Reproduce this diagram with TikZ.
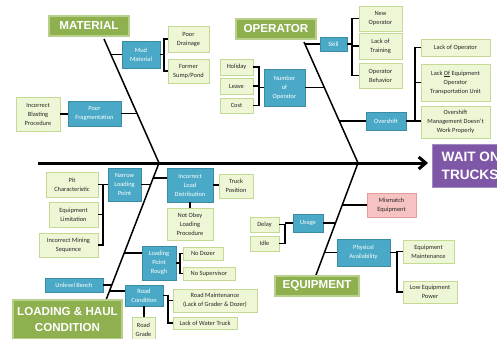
\documentclass[tikz,border=0pt]{standalone}
\usepackage{fontspec}
\setmainfont{Carlito}
\newfontfamily\catfont{Liberation Sans}
\usetikzlibrary{arrows.meta,shadows}
\definecolor{catg}{HTML}{8EB04F}
\definecolor{catb}{HTML}{B9CF8C}
\definecolor{lgfill}{HTML}{EEF7D5}
\definecolor{lgdraw}{HTML}{C4DA94}
\definecolor{bfill}{HTML}{4AA9C6}
\definecolor{bdraw}{HTML}{3A8BA4}
\definecolor{pkfill}{HTML}{F6C2C2}
\definecolor{pkdraw}{HTML}{E29C9C}
\definecolor{purp}{HTML}{7E58A6}
\definecolor{purpb}{HTML}{A38CC4}
\newcommand\bx[7]{\node[#2, minimum width={(#5-#3)*1pt}, minimum height={(#6-#4)*1pt}] (#1) at ({(#3+#5)/2},{(#4+#6)/2}) {#7};}
\begin{document}
\begin{tikzpicture}[x=1pt,y=-1pt,
  base/.style={inner sep=0pt, outer sep=0pt, align=center, font=\fontsize{6.4}{9}\selectfont},
  lg/.style={base, fill=lgfill, draw=lgdraw, line width=0.9pt, text=black!85,
    drop shadow={shadow xshift=0.8pt, shadow yshift=-0.8pt, opacity=0.25}},
  blu/.style={base, fill=bfill, draw=bdraw, line width=0.9pt, text=white},
  pinkb/.style={base, fill=pkfill, draw=pkdraw, line width=0.9pt, text=black!85,
    drop shadow={shadow xshift=0.8pt, shadow yshift=-0.8pt, opacity=0.25}},
  cat/.style={inner sep=0pt, outer sep=0pt, align=center, fill=catg, draw=catb, line width=1.2pt,
    text=white, font=\catfont\bfseries\fontsize{11.6}{15.5}\selectfont},
  ln/.style={line width=1.4pt, black},
  bone/.style={line width=1.5pt, black}]
\path[use as bounding box, clip] (0,0) rectangle (497,338);
\fill[white] (0,0) rectangle (497,338);

% ---------- spine ----------
\coordinate (spl) at (38,163);
\coordinate (spr) at (428,163);
\coordinate (hubL) at (159,163);
\coordinate (hubR) at (358,163);
\draw[line width=3pt, -{Straight Barb[length=7pt,width=12pt]}] (spl) -- (spr);
\node[fill=purp, draw=purpb, line width=1pt, minimum width=90pt, minimum height=43pt, inner sep=0pt] (wot) at (477,165.5) {};
\node[anchor=west, inner sep=0pt, align=left, text=white, font=\catfont\bfseries\fontsize{13.6}{18}\selectfont] (wott) at (441.5,166) {WAIT ON\\TRUCKS};

% ---------- MATERIAL ----------
\bx{mat}{cat}{49}{16}{129}{36}{MATERIAL}
\coordinate (mtop) at (104,39);
\draw[bone] (mtop) -- (hubL);
\bx{mud}{blu}{122}{41}{160}{68}{Mud\\Material}
\bx{pd}{lg}{168}{26}{209}{52}{Poor\\Drainage}
\bx{fsp}{lg}{168}{59}{209}{83}{Former\\Sump/Pond}
\bx{pf}{blu}{68}{101}{121}{126}{Poor\\Fragmentation}
\bx{ibp}{lg}{16}{97}{60}{131}{Incorrect\\Blasting\\Procedure}
\coordinate (m1) at (110.9,54.5);
\coordinate (m2) at (137,113.5);
\draw[ln] (m1) -- (m1 -| mud.west);
\draw[ln] (pf.east) -- (m2);
\draw[ln] (ibp.east) -- (ibp.east -| pf.west);
\coordinate (mb) at (164,0);
\draw[ln] (mud.east) -- (mud.east -| mb);
\draw[ln] (pd.west) -- (pd.west -| mb) -- (fsp.west -| mb) -- (fsp.west);

% ---------- OPERATOR ----------
\bx{op}{cat}{236}{19}{316}{39}{OPERATOR}
\coordinate (otop) at (304,42);
\draw[bone] (otop) -- (hubR);
\bx{skill}{blu}{320}{37}{347}{51}{Skill}
\bx{no}{lg}{359}{6}{402}{31}{New\\Operator}
\bx{lot}{lg}{359}{33}{402}{59}{Lack of\\Training}
\bx{ob}{lg}{359}{63}{402}{88}{Operator\\Behavior}
\coordinate (o1) at (304.9,44);
\draw[ln] (o1) -- (o1 -| skill.west);
\coordinate (sb) at (352,0);
\draw[ln] (skill.east) -- (skill.east -| sb);
\draw[ln] (no.west) -- (no.west -| sb) -- (ob.west -| sb) -- (ob.west);
\draw[ln] (lot.west) -- (lot.west -| sb);

\bx{noo}{blu}{264}{69}{305}{106}{Number\\of\\Operator}
\bx{hol}{lg}{220}{59}{253}{75}{Holiday}
\bx{lea}{lg}{220}{78}{253}{94}{Leave}
\bx{cost}{lg}{220}{98}{253}{113}{Cost}
\coordinate (o2) at (324.3,87.5);
\draw[ln] (noo.east) -- (o2);
\coordinate (nb) at (259,0);
\draw[ln] (noo.west) -- (noo.west -| nb);
\draw[ln] (hol.east) -- (hol.east -| nb) -- (cost.east -| nb) -- (cost.east);
\draw[ln] (lea.east) -- (lea.east -| nb);

\bx{ovs}{blu}{366}{112}{406}{130}{Overshift}
\bx{loo}{lg}{421}{39}{490}{56}{Lack of Operator}
\bx{loe}{lg}{421}{64}{490}{101}{Lack \underline{Of} Equipment\\Operator\\Transportation Unit}
\bx{omd}{lg}{421}{106}{490}{138}{Overshift\\Management Doesn't\\Work Properly}
\coordinate (o3) at (339.3,121);
\draw[ln] (o3) -- (ovs.west);
\coordinate (ob2) at (415,0);
\draw[ln] (ovs.east) -- (ovs.east -| ob2);
\draw[ln] (loo.west) -- (loo.west -| ob2) -- (ovs.east -| ob2);
\draw[ln] (loe.west) -- (loe.west -| ob2);
\draw[ln] (ovs.east -| ob2) -- (ovs.east -| omd.west);

% ---------- LOADING & HAUL ----------
\coordinate (lbot) at (106,300);
\draw[bone] (hubL) -- (lbot);
\bx{lhc}{cat}{13}{300}{122}{339}{LOADING \& HAUL\\CONDITION}
\bx{nlp}{blu}{108}{168}{141}{201}{Narrow\\Loading\\Point}
\bx{pc}{lg}{46}{172}{98}{197}{Pit\\Characteristic}
\bx{el}{lg}{49}{202}{98}{227}{Equipment\\Limitation}
\bx{ims}{lg}{39}{233}{98}{257}{Incorrect Mining\\Sequence}
\coordinate (l1) at (150.7,184.5);
\draw[ln] (nlp.east) -- (l1);
\coordinate (lb) at (103,0);
\draw[ln] (nlp.west) -- (nlp.west -| lb);
\draw[ln] (pc.east) -- (pc.east -| lb) -- (ims.east -| lb) -- (ims.east);
\draw[ln] (el.east) -- (el.east -| lb);

\bx{ild}{blu}{167}{168}{213}{202}{Incorrect\\Load\\Distribution}
\bx{tp}{lg}{219}{174}{253}{198}{Truck\\Position}
\bx{nol}{lg}{167}{208}{213}{240}{Not Obey\\Loading\\Procedure}
\coordinate (l2) at (153.2,178);
\draw[ln] (l2) -- (l2 -| ild.west);
\draw[ln] (ild.east) -- (ild.east -| tp.west);
\draw[ln] (ild.south) -- (nol.north);

\bx{lpr}{blu}{142}{246}{176}{280}{Loading\\Point\\Rough}
\bx{nd}{lg}{183}{247}{223}{260}{No Dozer}
\bx{ns}{lg}{183}{267}{235}{280}{No Supervisor}
\coordinate (l3) at (124.2,253);
\draw[ln] (l3) -- (l3 -| lpr.west);
\coordinate (rb) at (180,0);
\draw[ln] (lpr.east) -- (lpr.east -| rb);
\draw[ln] (nd.west) -- (nd.west -| rb) -- (ns.west -| rb) -- (ns.west);

\bx{ub}{blu}{45}{278}{103}{292}{Unlevel Bench}
\coordinate (l4) at (111.8,285);
\draw[ln] (ub.east) -- (l4);
\bx{rc}{blu}{125}{285}{163}{306}{Road\\Condition}
\coordinate (l5) at (109.5,291);
\draw[ln] (l5) -- (l5 -| rc.west);
\bx{rm}{lg}{173}{289}{257}{312}{Road Maintenance\\(Lack of Grader \& Dozer)}
\bx{lwt}{lg}{173}{317}{237}{329}{Lack of Water Truck}
\coordinate (cb) at (168,0);
\draw[ln] (rc.east) -- (rc.east -| cb) -- (lwt.west -| cb) -- (lwt.west);
\draw[ln] (rm.west) -- (rm.west -| cb);
\bx{rg}{lg}{132}{317}{155}{342}{Road\\Grade}
\draw[ln] (rc.south) -- (rc.south |- rg.north);

% ---------- EQUIPMENT ----------
\coordinate (ebot) at (316,275);
\draw[bone] (hubR) -- (ebot);
\bx{eq}{cat}{275}{276}{359}{296}{EQUIPMENT}
\bx{mme}{pinkb}{367}{193}{416}{217}{Mismatch\\Equipment}
\coordinate (e1) at (342.25,205);
\draw[ln] (e1) -- (mme.west);
\bx{usg}{blu}{293}{214}{323}{232}{Usage}
\coordinate (e2) at (335.5,223);
\draw[ln] (usg.east) -- (e2);
\bx{dly}{lg}{250}{217}{279}{232}{Delay}
\bx{idl}{lg}{250}{236}{279}{251}{Idle}
\coordinate (ub2) at (285,0);
\draw[ln] (usg.west) -- (usg.west -| ub2);
\draw[ln] (dly.east) -- (dly.east -| ub2) -- (idl.east -| ub2) -- (idl.east);
\bx{pa}{blu}{337}{239}{390}{266}{Physical\\Availability}
\coordinate (e3) at (324.4,252.5);
\draw[ln] (e3) -- (pa.west);
\bx{em}{lg}{403}{240}{454}{263}{Equipment\\Maintenance}
\bx{lep}{lg}{403}{281}{457}{303}{Low Equipment\\Power}
\coordinate (pb) at (397,0);
\draw[ln] (pa.east) -- (pa.east -| pb);
\draw[ln] (em.west) -- (em.west -| pb) -- (lep.west -| pb) -- (lep.west);
\end{tikzpicture}
\end{document}
